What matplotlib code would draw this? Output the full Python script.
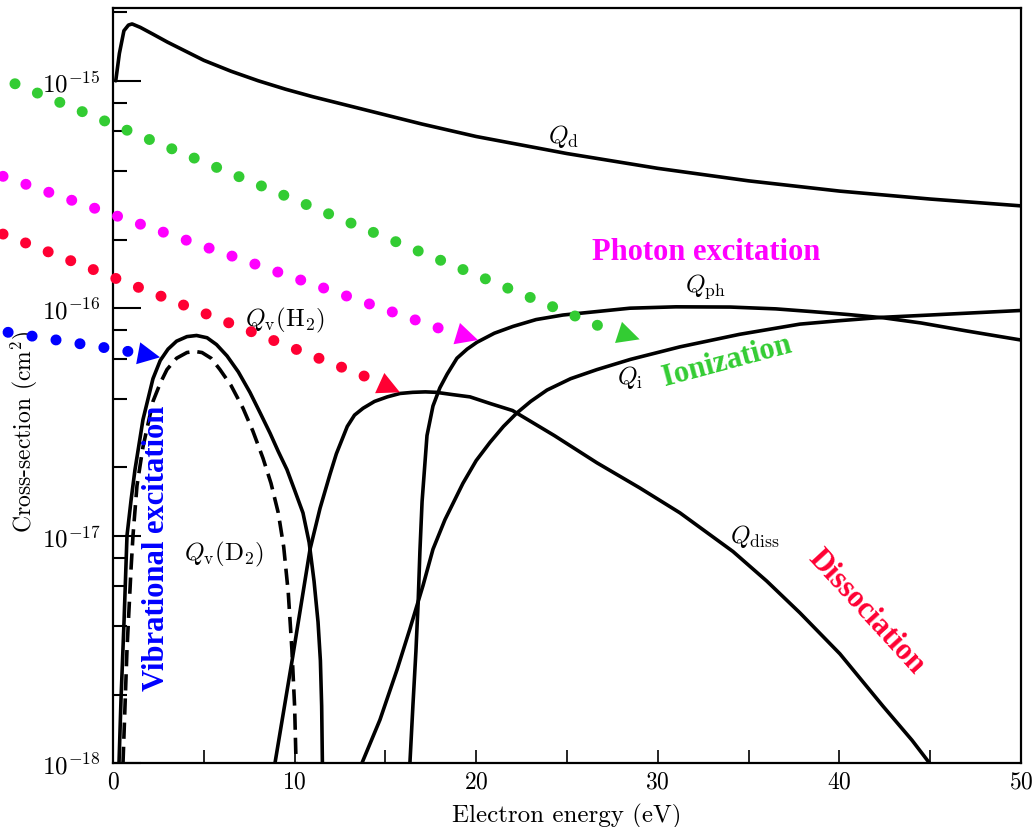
import numpy as np
import matplotlib.pyplot as plt
from matplotlib.ticker import FixedLocator, FixedFormatter, NullFormatter

plt.rcParams['mathtext.fontset'] = 'cm'
plt.rcParams['font.family'] = 'serif'
plt.rcParams['font.serif'] = ['DejaVu Serif']

# curves: energy (eV) and log10 of cross-section (cm^2)
qd_e = [0.15, 0.35, 0.6, 0.85, 1.05, 1.5, 2.2, 3.0, 4.0, 5.0, 6.5, 8.0, 9.5, 11.0,
        12.5, 14.0, 17.0, 20.0, 25.0, 30.0, 35.0, 40.0, 45.0, 50.0]
qd_log = [-15.0, -14.88, -14.78, -14.755, -14.75, -14.765, -14.795, -14.83, -14.87,
          -14.91, -14.958, -15.0, -15.037, -15.07, -15.1, -15.13, -15.19, -15.245,
          -15.32, -15.385, -15.44, -15.485, -15.52, -15.55]

qvh_e = [0.33, 0.44, 0.61, 0.77, 1.0, 1.21, 1.65, 2.2, 2.6, 3.03, 3.5, 4.07, 4.6, 5.18,
         5.7, 6.28, 6.9, 7.54, 8.1, 8.65, 9.1, 9.58, 10.0, 10.46, 10.8, 11.07, 11.29,
         11.42, 11.49, 11.53, 11.55]
qvh_log = [-18.0, -17.72, -17.37, -17.0, -16.84, -16.71, -16.49, -16.31, -16.23, -16.18,
           -16.145, -16.125, -16.12, -16.13, -16.16, -16.21, -16.28, -16.37, -16.46,
           -16.55, -16.63, -16.71, -16.80, -16.90, -17.03, -17.2, -17.38, -17.55,
           -17.75, -18.0, -18.15]

qvd_e = [0.55, 0.77, 0.99, 1.10, 1.32, 1.65, 2.2, 2.6, 2.97, 3.5, 4.07, 4.5, 4.9, 5.4,
         5.89, 6.5, 7.16, 7.7, 8.26, 8.7, 9.1, 9.4, 9.65, 9.85, 10.0, 10.08, 10.1]
qvd_log = [-18.0, -17.5, -17.15, -17.0, -16.78, -16.61, -16.41, -16.33, -16.27, -16.22,
           -16.195, -16.19, -16.195, -16.22, -16.27, -16.34, -16.44, -16.54, -16.66,
           -16.77, -16.9, -17.05, -17.25, -17.5, -17.75, -18.0, -18.15]

qdiss_e = [8.81, 8.92, 9.86, 10.85, 11.4, 11.95, 12.3, 12.6, 12.9, 13.3, 13.77, 14.4,
           15.1, 15.8, 16.5, 17.2, 17.8, 18.7, 19.66, 20.8, 22.0, 24.3, 26.65, 29.0,
           31.22, 34.14, 36.0, 37.83, 40.03, 42.4, 44.0, 45.15]
qdiss_log = [-18.07, -18.0, -17.55, -17.06, -16.88, -16.73, -16.64, -16.58, -16.52,
             -16.47, -16.44, -16.41, -16.39, -16.375, -16.37, -16.368, -16.37, -16.38,
             -16.39, -16.42, -16.45, -16.56, -16.68, -16.79, -16.9, -17.07, -17.2,
             -17.34, -17.52, -17.75, -17.9, -18.02]

qph_e = [16.33, 16.35, 16.52, 16.68, 16.8, 16.9, 17.02, 17.29, 17.62, 18.0, 18.4, 18.94,
         19.5, 20.04, 21.0, 22.03, 23.3, 24.78, 26.0, 28.47, 31.0, 34.0, 36.5, 38.5,
         40.5, 42.4, 44.5, 47.0, 50.0]
qph_log = [-18.1, -18.0, -17.74, -17.51, -17.3, -17.07, -16.85, -16.56, -16.43, -16.35,
           -16.29, -16.22, -16.18, -16.15, -16.11, -16.08, -16.05, -16.03, -16.02,
           -16.0, -15.994, -15.995, -16.003, -16.015, -16.028, -16.042, -16.065,
           -16.1, -16.14]

qi_e = [13.6, 13.71, 14.7, 15.64, 16.35, 17.07, 17.62, 18.28, 19.27, 20.0, 20.76, 21.5,
        22.25, 23.0, 23.9, 25.2, 26.65, 28.5, 31.22, 34.5, 37.83, 40.0, 42.4, 45.0, 50.0]
qi_log = [-18.06, -18.0, -17.81, -17.59, -17.41, -17.22, -17.06, -16.93, -16.77, -16.67,
          -16.59, -16.52, -16.46, -16.41, -16.36, -16.31, -16.27, -16.225, -16.17,
          -16.115, -16.07, -16.055, -16.04, -16.03, -16.01]

# dotted guide arrows: first dot, last dot, arrow tip  (energy, log10 Q)
guides = {
    '#33cc33': [(-5.40, -15.013), (26.82, -16.08), (29.0, -16.137)],
    '#ff00ff': [(-6.06, -15.42), (17.95, -16.088), (20.1, -16.14)],
    '#ff0033': [(-6.06, -15.674), (13.88, -16.30), (15.8, -16.37)],
    '#0000ff': [(-5.78, -16.106), (0.83, -16.19), (2.59, -16.216)],
}

y_major = [1e-18, 1e-17, 1e-16, 1e-15]
y_labels = [r'$10^{-18}$', r'$10^{-17}$', r'$10^{-16}$', r'$10^{-15}$']
x_major = [0, 10, 20, 30, 40, 50]
x_minor = [5, 15, 25, 35, 45]


def main():
    fig = plt.figure(figsize=(10.34, 8.28), dpi=100)
    ax = fig.add_axes([0.1093, 0.0773, 0.8781, 0.9118])
    ax.set_yscale('log')
    ax.set_xlim(0, 50)
    ax.set_ylim(1e-18, 10 ** -14.68)

    lw = 2.6
    for e, lg in [(qd_e, qd_log), (qvh_e, qvh_log), (qdiss_e, qdiss_log),
                  (qph_e, qph_log), (qi_e, qi_log)]:
        ax.plot(e, 10 ** np.array(lg), color='black', lw=lw,
                solid_capstyle='round', solid_joinstyle='round')
    ax.plot(qvd_e, 10 ** np.array(qvd_log), color='black', lw=lw, linestyle=(0, (4.5, 2.2)))

    # coloured dotted arrows
    for c, (p0, p1, tip) in guides.items():
        ax.plot([p0[0], p1[0]], [10 ** p0[1], 10 ** p1[1]], color=c, lw=7.9,
                linestyle=(0, (0.01, 2.2)), dash_capstyle='round', clip_on=False, zorder=5)
        ax.annotate('', xy=(tip[0], 10 ** tip[1]), xytext=(p1[0], 10 ** p1[1]),
                    arrowprops=dict(arrowstyle='-|>,head_length=0.8,head_width=0.4',
                                    color=c, lw=0, mutation_scale=20,
                                    shrinkA=0, shrinkB=0), zorder=6)

    # curve labels
    ts = 18
    ax.text(24.83, 10 ** -15.24, r'$Q_{\rm d}$', fontsize=ts, ha='center', va='center')
    ax.text(32.65, 10 ** -15.90, r'$Q_{\rm ph}$', fontsize=ts, ha='center', va='center')
    ax.text(9.47, 10 ** -16.05, r'$Q_{\rm v}({\rm H}_2)$', fontsize=ts, ha='center', va='center')
    ax.text(28.47, 10 ** -16.30, r'$Q_{\rm i}$', fontsize=ts, ha='center', va='center')
    ax.text(6.11, 10 ** -17.08, r'$Q_{\rm v}({\rm D}_2)$', fontsize=ts, ha='center', va='center')
    ax.text(35.35, 10 ** -17.0, r'$Q_{\rm diss}$', fontsize=ts, ha='center', va='center')

    # process names
    big = dict(family='Liberation Serif', weight='bold', fontsize=22, ha='center', va='center')
    ax.text(32.65, 10 ** -15.75, 'Photon excitation', color='#ff00ff', **big)
    ax.text(33.8, 10 ** -16.23, 'Ionization', color='#33cc33', rotation=15, **big)
    ax.text(41.5, 10 ** -17.33, 'Dissociation', color='#ff0033', rotation=-47.5, **big)
    ax.text(2.37, 10 ** -17.05, 'Vibrational excitation', color='#0000ff', rotation=90, **big)

    # axes styling
    ax.yaxis.set_major_locator(FixedLocator(y_major))
    ax.yaxis.set_major_formatter(FixedFormatter(y_labels))
    ax.yaxis.set_minor_locator(FixedLocator([m * 10.0 ** d for d in (-18, -17, -16, -15)
                                             for m in (2, 4, 6, 8)]))
    ax.yaxis.set_minor_formatter(NullFormatter())
    ax.xaxis.set_major_locator(FixedLocator(x_major))
    ax.xaxis.set_major_formatter(FixedFormatter([r'$%d$' % v for v in x_major]))
    ax.xaxis.set_minor_locator(FixedLocator(x_minor))

    ax.tick_params(axis='y', which='major', direction='in', length=20, width=1.5,
                   labelsize=18, pad=9)
    ax.tick_params(axis='y', which='minor', direction='in', length=10, width=1.5)
    ax.tick_params(axis='x', which='both', direction='in', length=9.5, width=1.2,
                   labelsize=17, pad=5)
    for s in ax.spines.values():
        s.set_linewidth(1.6)

    ax.set_xlabel('Electron energy (eV)', family='cmr10', fontsize=18, labelpad=7)
    ax.set_ylabel(r'Cross-section (cm$^2$)', family='cmr10', fontsize=17)
    ax.yaxis.set_label_coords(-0.08, 0.44)

    fig.savefig('out.png', dpi=100)


if __name__ == '__main__':
    main()
